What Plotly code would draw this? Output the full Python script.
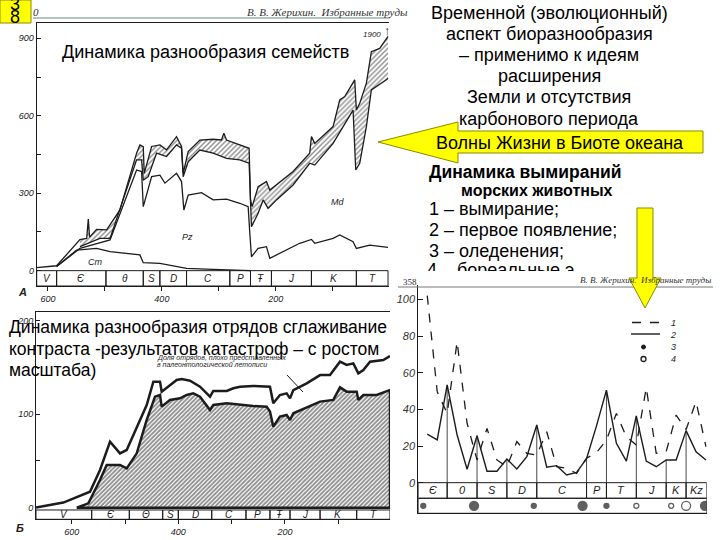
import plotly.graph_objects as go

W, H = 720, 540
def PX(x): return x / W
def PY(y): return 1 - y / H

# ---------------- data: panel A (families) ----------------
A_top_age = [619.8, 584.8, 543.9, 532, 529.2, 527, 514.6, 497, 473.7, 444.4, 438.6, 432.7, 431, 418, 403.5, 391.8,
             374.3, 365.5, 362.6, 353.8, 333.3, 310, 295.3, 291.2, 286.5, 263.2, 246.8, 244.4, 241.5, 231, 216.4,
             210.5, 198.8, 169.6, 140.4, 137.4, 131.6, 99.4, 87.7, 78.9, 61.4, 58.5, 52.6, 40.9, 32.2, 17.5, 2.9]
A_top_val = [12, 19, 120, 125, 200, 130, 160, 158, 235, 455, 487, 480, 377, 481, 487, 468,
             519, 481, 377, 461, 506, 509, 506, 532, 506, 487, 474, 274, 248, 325, 345,
             312, 332, 384, 455, 519, 493, 558, 661, 674, 739, 622, 648, 726, 848, 861, 907]
A_low_age = [543.9, 508.8, 491, 444.4, 435.6, 432.7, 424, 409.4, 391.8, 374.3, 365.5, 362.6, 353.8, 333.3, 310,
             286.5, 263.2, 246.8, 242.7, 231, 222.2, 213.5, 198.8, 169.6, 140.4, 131.6, 99.4, 81.9, 64.3, 59.6,
             52.6, 40.9, 32.2, 5.8, 2.9]
A_low_val = [93, 125, 125, 429, 429, 350, 364, 455, 442, 487, 474, 364, 422, 467, 455,
             435, 429, 416, 170, 222, 274, 241, 274, 332, 416, 409, 493, 558, 622, 390,
             416, 558, 700, 739, 745]
A_pz_age = [584.8, 543.9, 491, 444.4, 435.6, 432.7, 418, 403.5, 394.7, 374.3, 365.5, 361.4, 353.8, 330.4, 310,
            286.5, 263.2, 248.5, 245.6, 242.7, 231, 216.4, 210.5, 181.3, 157.9, 137.4, 131.6, 99.4, 87.7, 64.3,
            58.5, 35.1, 2.9]
A_pz_val = [16, 86, 119, 390, 384, 248, 364, 370, 339, 377, 345, 235, 293, 302, 274,
            277, 261, 248, 145, 54, 86, 93, 48, 80, 106, 121, 106, 125, 138, 112,
            86, 99, 90]
A_cm_age = [584.8, 549.7, 514.6, 491, 438.6, 432.7, 403.5, 374.3, 356.7, 310, 250, 244.4]
A_cm_val = [16, 80, 86, 74, 61, 31, 28, 16, 9, 5, 3, 0]
A_periods = ["V", "Є", "θ", "S", "D", "C", "P", "Ŧ", "J", "K", "T"]
A_bounds = [619.8, 584.8, 498.2, 432.7, 403.5, 356.7, 280.7, 244.4, 207.6, 137.4, 58.5, 2.9]
A_xticks = [600, 500, 400, 300, 200, 100, 0]
A_xlabels = ["600", "", "400", "", "200", "", "0"]
A_yticks = [0, 150, 300, 450, 600, 750, 900]
A_ylabels = ["0", "", "300", "", "600", "", "900"]

# ---------------- data: panel B (orders) ----------------
B_top_age = [667, 615.7, 565.7, 546.9, 528.1, 509.4, 496.8, 478, 459.3, 446.8, 434.3, 431.2, 415.6, 403, 393.6,
             378, 359.3, 340.5, 334.3, 309.2, 296.7, 284.2, 259.3, 240.5, 228, 221.8, 209.3, 196.7, 190.4, 184.2,
             159.1, 134, 115.4, 96.6, 84.1, 71.6, 62.2, 52.8, 40.3, 15.4, 2.8]
B_top_val = [0, 5.4, 17.1, 40.4, 70.7, 58.2, 61.8, 86.8, 110, 135, 135, 124.3, 131.4, 136.8, 137.9,
             136, 129.6, 118.9, 125, 125, 127.9, 129.6, 130.4, 129.6, 129.6, 111.8, 120.7, 122.5, 117.1, 126,
             133.2, 142, 142, 156.4, 152.9, 154.6, 143.9, 147.5, 156.4, 158.2, 162.5]
B_low_age = [590.6, 568.8, 546.9, 534.4, 509.4, 496.8, 478, 459.3, 443.7, 434.3, 431.2, 415.6, 396.8, 384.3,
             371.8, 359.3, 340.5, 334.3, 309.2, 284.2, 259.3, 234.2, 228, 221.8, 209.3, 196.7, 190.4, 184.2,
             159.1, 134, 109.2, 96.6, 84.1, 65.3, 62.2, 52.8, 27.8, 2.8]
B_low_val = [0, 4.6, 29.6, 45.7, 45.7, 42.1, 58.2, 93.9, 118.9, 120.7, 108.2, 115.4, 117.1, 120.7,
             122.5, 118.9, 104.6, 110, 111.8, 110, 108.9, 108.2, 102.9, 86.8, 97.5, 99.3, 93.9, 101.1,
             107.5, 113.6, 115.4, 128.9, 124.3, 124.3, 115.4, 120.7, 120.7, 126]
B_periods = ["V", "Є", "Θ", "S", "D", "C", "P", "Ŧ", "J", "K", "T"]
B_bounds = [667, 562.5, 491.9, 429.3, 400, 337.3, 273, 228, 190.4, 134, 65.3, 2.8]
B_xticks = [600, 500, 400, 300, 200, 100]
B_xlabels = ["600", "", "400", "", "200", ""]
B_yticks = [0, 50, 100, 150, 200]
B_ylabels = ["0", "", "100", "", "200"]

# ---------------- data: panel C (extinctions) ----------------
C_interval = list(range(29))
C_extinct = [102, 49.6, 37.8, 76.9, 32.4, 12.4, 29.6, 12.4, 8.7, 22.4, 16, 15.1, 27.8, 8.7, 7.8, 5.1,
             13.3, 16.4, 23.3, 37.8, 25, 20.5, 51.8, 16, 16.9, 36.9, 29, 44.2, 19.6]
C_first = [26.5, 23.3, 53.3, 26, 7.3, 25.6, 6.2, 6.2, 12.9, 7.5, 14.2, 31.5, 8.4, 9.3, 4.2, 5.6,
           13.1, 31, 50.5, 21.5, 11.8, 36.4, 11.8, 8.7, 12.4, 12.4, 28.4, 16.9, 12.4]
C_periods = ["Є", "0", "S", "D", "C", "P", "T", "J", "K", "Kz"]
C_bounds = [-0.9, 2, 5, 8, 11, 16, 18, 21, 24, 26, 28.07]
C_yticks = [0, 20, 40, 60, 80, 100]
glac_x = [-0.4, 4.7, 10.7, 15.6, 18, 21, 24.5, 26, 27.9]
glac_open = [False, False, False, False, False, True, True, True, False]
glac_big = [False, True, False, True, False, False, False, True, True]

INK = "#1c1c1c"
SANS = "Liberation Sans"
SERIF = "Liberation Serif"

fig = go.Figure()

# ---- panel A traces ----
cut = A_low_age[0]
hx = [a for a in A_top_age if a <= cut] + A_low_age[::-1]
hy = [v for a, v in zip(A_top_age, A_top_val) if a <= cut] + A_low_val[::-1]
fig.add_trace(go.Scatter(x=hx, y=hy, xaxis="x", yaxis="y", mode="lines", fill="toself",
                         fillcolor="white", line=dict(width=0),
                         fillpattern=dict(shape="/", fgcolor=INK, bgcolor="white", size=3.5, solidity=0.4),
                         hoverinfo="skip"))
for ax_, ay_ in [(A_top_age, A_top_val), (A_low_age, A_low_val), (A_pz_age, A_pz_val), (A_cm_age, A_cm_val)]:
    fig.add_trace(go.Scatter(x=ax_, y=ay_, xaxis="x", yaxis="y", mode="lines",
                             line=dict(color=INK, width=1.3), hoverinfo="skip"))

# ---- panel B traces ----
bx = B_low_age + [B_low_age[-1], B_low_age[0]]
by = B_low_val + [0, 0]
fig.add_trace(go.Scatter(x=bx, y=by, xaxis="x2", yaxis="y2", mode="lines", fill="toself",
                         fillcolor="white", line=dict(color=INK, width=2.5),
                         fillpattern=dict(shape="/", fgcolor="#1a1a1a", bgcolor="white", size=3, solidity=0.6),
                         hoverinfo="skip"))
fig.add_trace(go.Scatter(x=B_top_age, y=B_top_val, xaxis="x2", yaxis="y2", mode="lines",
                         line=dict(color=INK, width=2.5), hoverinfo="skip"))

# ---- panel C traces ----
fig.add_trace(go.Scatter(x=C_interval, y=C_extinct, xaxis="x3", yaxis="y3", mode="lines",
                         line=dict(color=INK, width=1.3, dash="dash"), hoverinfo="skip"))
fig.add_trace(go.Scatter(x=C_interval, y=C_first, xaxis="x3", yaxis="y3", mode="lines",
                         line=dict(color=INK, width=1.4), hoverinfo="skip"))
fig.add_trace(go.Scatter(
    x=glac_x, y=[-12.6] * len(glac_x), xaxis="x3", yaxis="y3", mode="markers",
    marker=dict(size=[9 if b else 5 for b in glac_big],
                symbol=["circle-open" if o else "circle" for o in glac_open],
                color=INK, line=dict(width=1.3, color=INK)),
    hoverinfo="skip", cliponaxis=True))

# ---- partially hidden text line (clipped by its own tiny subplot) ----
fig.add_trace(go.Scatter(x=[0.023], y=[0.42], xaxis="x4", yaxis="y4", mode="text",
                         text=["4 – бореальные э"], textposition="bottom right",
                         textfont=dict(family=SANS, size=18, color="black"),
                         cliponaxis=True, hoverinfo="skip"))

shapes = []
annotations = []

def ann(text, x, y, size=17.5, xanchor="center", family=SANS, color="black", **kw):
    annotations.append(dict(text=text, x=PX(x), y=PY(y), xref="paper", yref="paper",
                            xanchor=xanchor, yanchor="middle", showarrow=False,
                            font=dict(family=family, size=size, color=color), **kw))

def path(points):
    return "M " + " L ".join(f"{PX(x):.5f},{PY(y):.5f}" for x, y in points) + " Z"

# period bands A
A_band_bot = -59.4
for i, name in enumerate(A_periods):
    shapes.append(dict(type="rect", xref="x", yref="y", x0=A_bounds[i], x1=A_bounds[i + 1],
                       y0=A_band_bot, y1=0, line=dict(color=INK, width=1)))
    annotations.append(dict(text=f"<i>{name}</i>", x=(A_bounds[i] + A_bounds[i + 1]) / 2, y=A_band_bot / 2,
                            xref="x", yref="y", showarrow=False,
                            font=dict(family=SANS, size=10, color=INK)))
# period bands B
B_band_top, B_band_bot = -2.5, -12.5
for i, name in enumerate(B_periods):
    shapes.append(dict(type="rect", xref="x2", yref="y2", x0=B_bounds[i], x1=B_bounds[i + 1],
                       y0=B_band_bot, y1=B_band_top, line=dict(color=INK, width=1)))
    annotations.append(dict(text=f"<i>{name}</i>", x=(B_bounds[i] + B_bounds[i + 1]) / 2,
                            y=(B_band_top + B_band_bot) / 2, xref="x2", yref="y2", showarrow=False,
                            font=dict(family=SANS, size=10, color=INK)))
# period bands C
C_band_bot, C_row_bot = -8.5, -16.7
for i, name in enumerate(C_periods):
    shapes.append(dict(type="rect", xref="x3", yref="y3", x0=C_bounds[i], x1=C_bounds[i + 1],
                       y0=C_band_bot, y1=0, line=dict(color=INK, width=1)))
    annotations.append(dict(text=f"<i>{name}</i>", x=(C_bounds[i] + C_bounds[i + 1]) / 2,
                            y=C_band_bot / 2, xref="x3", yref="y3", showarrow=False,
                            font=dict(family=SANS, size=11, color=INK)))
    if 0 < i:
        b = C_bounds[i]
        shapes.append(dict(type="line", xref="x3", yref="y3", x0=b, x1=b, y0=0,
                           y1=C_first[int(round(b))], line=dict(color=INK, width=0.8)))
shapes.append(dict(type="rect", xref="x3", yref="y3", x0=C_bounds[0], x1=C_bounds[-1],
                   y0=C_row_bot, y1=C_band_bot, line=dict(color=INK, width=1)))

# header rules
shapes.append(dict(type="line", xref="paper", yref="paper", x0=PX(33), x1=PX(390), y0=PY(18), y1=PY(18),
                   line=dict(color="#6f8888", width=1.2)))
shapes.append(dict(type="line", xref="paper", yref="paper", x0=PX(398), x1=PX(713), y0=PY(287), y1=PY(287),
                   line=dict(color="#777", width=1)))
# pointer line in B
shapes.append(dict(type="line", xref="paper", yref="paper", x0=PX(287), x1=PX(303), y0=PY(375), y1=PY(392),
                   line=dict(color=INK, width=1)))
# legend C
shapes.append(dict(type="line", xref="paper", yref="paper", x0=PX(632), x1=PX(660), y0=PY(322.5), y1=PY(322.5),
                   line=dict(color=INK, width=1.3, dash="dash")))
shapes.append(dict(type="line", xref="paper", yref="paper", x0=PX(631), x1=PX(660), y0=PY(334), y1=PY(334),
                   line=dict(color=INK, width=1.4)))
shapes.append(dict(type="circle", xref="paper", yref="paper", x0=PX(641.5), x1=PX(645.5), y0=PY(349), y1=PY(345),
                   fillcolor=INK, line=dict(color=INK, width=1)))
shapes.append(dict(type="circle", xref="paper", yref="paper", x0=PX(641), x1=PX(646), y0=PY(361.5), y1=PY(356.5),
                   line=dict(color=INK, width=1.3)))

# yellow arrows and slide number box
YEL = "#ffff00"
EDGE = "#8a8a00"
shapes.append(dict(type="path", xref="paper", yref="paper", layer="above",
                   path=path([(378, 142), (458, 122), (458, 131), (703, 131), (703, 153), (458, 153), (458, 163)]),
                   fillcolor=YEL, line=dict(color=EDGE, width=1)))
shapes.append(dict(type="path", xref="paper", yref="paper", layer="above",
                   path=path([(637, 208), (653, 208), (653, 278), (661, 278), (645, 308), (629, 278), (637, 278)]),
                   fillcolor=YEL, line=dict(color=EDGE, width=1)))
shapes.append(dict(type="rect", xref="paper", yref="paper", layer="above",
                   x0=PX(0), x1=PX(31), y0=PY(23), y1=PY(0), fillcolor=YEL, line=dict(color=EDGE, width=1)))

# ---- texts ----
ann("3", 15, 4, size=18)
ann("8", 15, 17, size=18)
ann("<i>0</i>", 36, 12, size=11, family=SERIF, color="#333")
ann("<i>В. В. Жерихин.  Избранные труды</i>", 245, 12, size=11, xanchor="left", family=SERIF, color="#333")
ann("Динамика разнообразия семейств", 60, 52, size=18, xanchor="left")
ann("<i>1900</i>", 372, 34, size=8, color=INK)
ann("↑", 387, 30, size=13, color=INK)
ann("<i>Cm</i>", 95, 262, size=9, color=INK)
ann("<i>Pz</i>", 187, 237, size=9, color=INK)
ann("<i>Md</i>", 337, 202, size=9, color=INK)
ann("<b><i>А</i></b>", 22, 292, size=11, color=INK)
ann("<b><i>Б</i></b>", 20, 528, size=11, color=INK)

right_lines = ["Временной (эволюционный)", "аспект биоразнообразия", "– применимо к идеям",
               "расширения", "Земли и отсутствия", "карбонового периода"]
for k, t in enumerate(right_lines):
    ann(t, 549, 13 + k * 21.1, size=18)
ann("Волны Жизни в Биоте океана", 560, 143, size=18)
ann("<b>Динамика вымираний</b>", 427, 172, size=17.5, xanchor="left")
ann("<b>морских животных</b>", 537, 190, size=16)
ann("1 – вымирание;", 427, 209, size=18, xanchor="left")
ann("2 – первое появление;", 427, 230, size=18, xanchor="left")
ann("3 – оледенения;", 427, 251, size=18, xanchor="left")

for k, t in enumerate(["Динамика разнообразия отрядов сглаживание",
                       "контраста -результатов катастроф – с ростом", "масштаба)"]):
    ann(t, 7, 327 + k * 21.5, size=17.5, xanchor="left")
ann("<i>Доля отрядов, плохо представленных</i>", 155, 357.5, size=7, xanchor="left", color=INK)
ann("<i>в палеонтологической летописи</i>", 155, 364.5, size=7, xanchor="left", color=INK)

ann("358", 401, 282, size=9, xanchor="left", family=SERIF, color="#333")
ann("<i>В. В. Жерихин.  Избранные труды</i>", 713, 280, size=9, xanchor="right", family=SERIF, color="#333")
for k, t in enumerate(["1", "2", "3", "4"]):
    ann(f"<i>{t}</i>", 673, 322.5 + k * 12.3, size=9, color=INK)

tickf = dict(family=SANS, size=9, color=INK, style="italic")
common = dict(showgrid=False, zeroline=False, linecolor=INK, linewidth=1)

fig.update_layout(
    width=W, height=H, margin=dict(l=0, r=0, t=0, b=0, autoexpand=False),
    paper_bgcolor="white", plot_bgcolor="rgba(0,0,0,0)", showlegend=False,
    xaxis=dict(domain=[PX(36.7), PX(389)], range=[619.8, 1.2], anchor="y", showline=True, mirror=True,
               tickvals=A_xticks, ticktext=A_xlabels, ticks="outside", ticklen=4, tickcolor=INK,
               tickfont=tickf, **common),
    yaxis=dict(domain=[PY(286), PY(23.3)], range=[-59.4, 958], anchor="x", showline=True,
               tickvals=A_yticks, ticktext=A_ylabels, ticks="inside", ticklen=4, tickcolor=INK,
               tickfont=tickf, **common),
    xaxis2=dict(domain=[PX(36), PX(390)], range=[667, 2.8], anchor="y2", showline=True, mirror=True,
                tickvals=B_xticks, ticktext=B_xlabels, ticks="outside", ticklen=4, tickcolor=INK,
                tickfont=tickf, **common),
    yaxis2=dict(domain=[PY(519.3), PY(312.3)], range=[-12.5, 209.3], anchor="x2", showline=True,
                tickvals=B_yticks, ticktext=B_ylabels, ticks="inside", ticklen=4, tickcolor=INK,
                tickfont=tickf, **common),
    xaxis3=dict(domain=[PX(418.3), PX(706.7)], range=[-0.9, 28.07], anchor="y3", showline=True,
                showticklabels=False, ticks="", **common),
    yaxis3=dict(domain=[PY(513.3), PY(285.4)], range=[-16.7, 107.6], anchor="x3", showline=True,
                tickvals=C_yticks, ticks="inside", ticklen=5, tickcolor=INK,
                tickfont=dict(family=SANS, size=11, color="#333", style="italic"), **common),
    xaxis4=dict(domain=[PX(420), PX(720)], range=[0, 1], anchor="y4", visible=False),
    yaxis4=dict(domain=[PY(271), PY(250)], range=[0, 1], anchor="x4", visible=False),
    shapes=shapes, annotations=annotations,
)

fig.write_html("out.html", config={"displayModeBar": False, "staticPlot": True},
               post_script="document.body.style.margin='0px';document.body.style.overflow='hidden';")
